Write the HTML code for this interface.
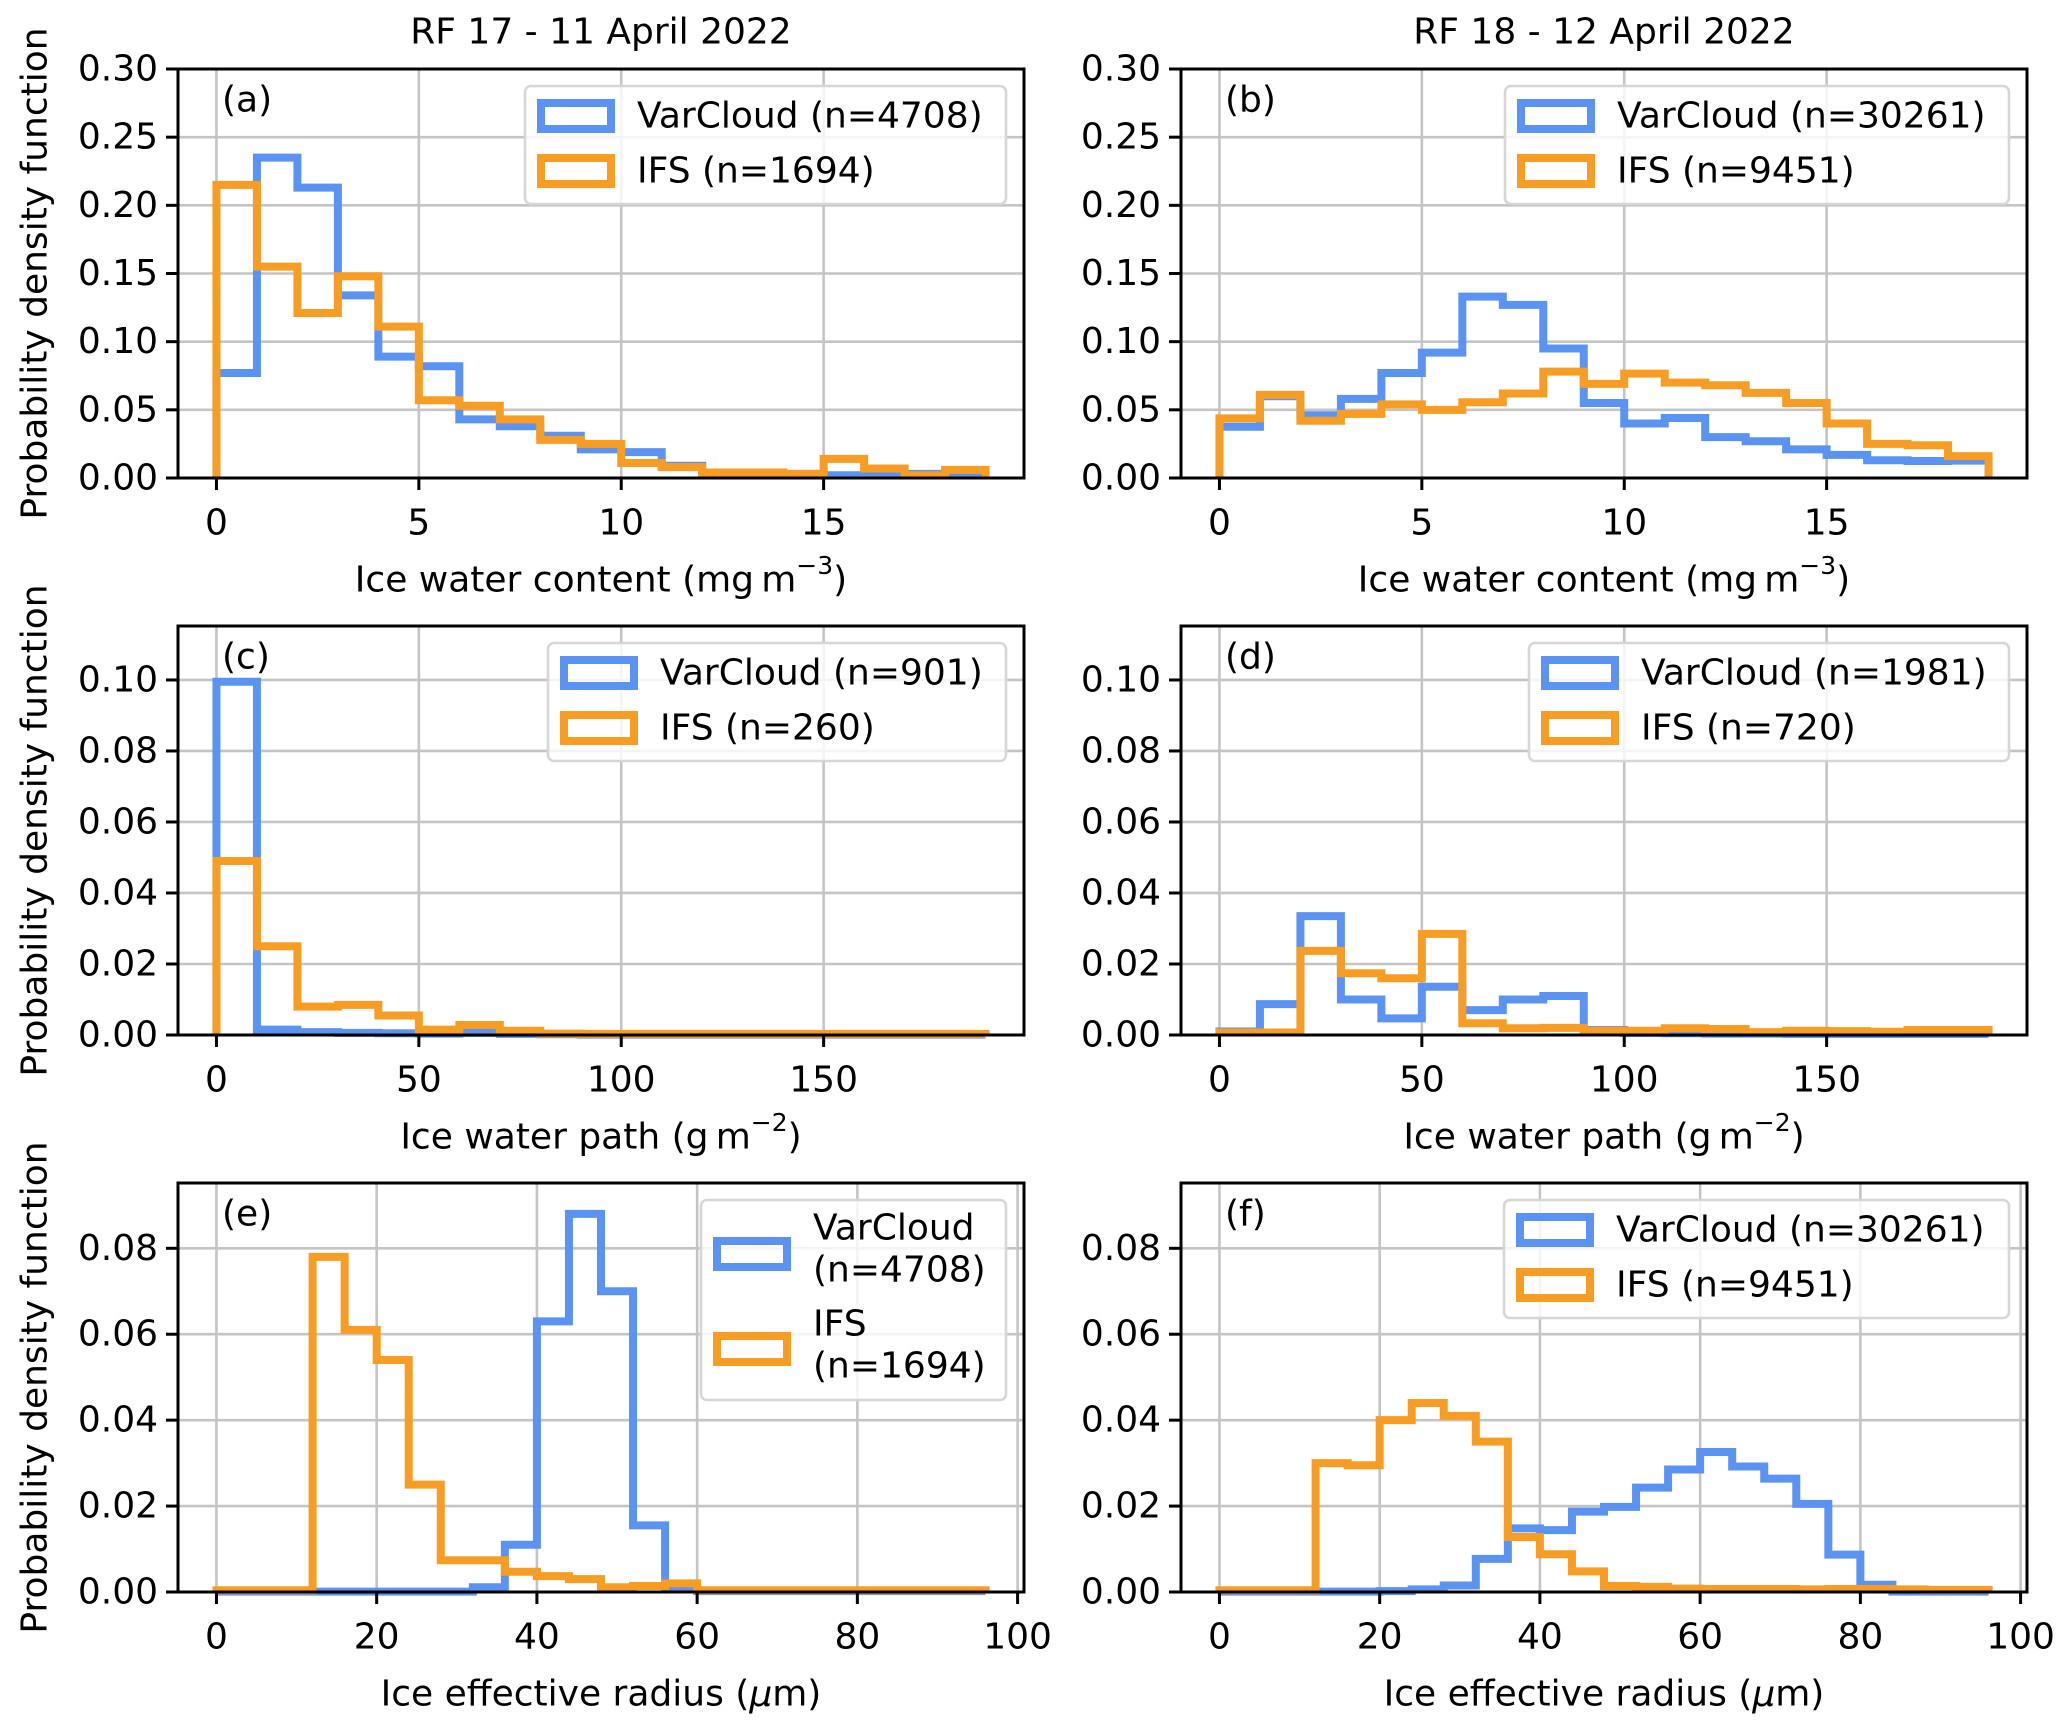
<!DOCTYPE html>
<html><head><meta charset="utf-8">
<style>
html,body{margin:0;padding:0;background:#fff;}
svg{display:block;font-family:"DejaVu Sans","Liberation Sans",sans-serif;}
</style></head>
<body>
<svg id="fig" width="2067" height="1726" viewBox="0 0 2067 1726" xmlns="http://www.w3.org/2000/svg"></svg>
<script>
// ---- data ----
const iwcVarA = [0.077,0.235,0.213,0.134,0.089,0.082,0.043,0.038,0.031,0.021,0.019,0.009,0.004,0.004,0.003,0.002,0.002,0.003,0.002];
const iwcIfsA = [0.215,0.155,0.121,0.148,0.111,0.057,0.053,0.043,0.028,0.025,0.011,0.008,0.004,0.004,0.003,0.014,0.007,0.002,0.006];
const iwcVarB = [0.0376,0.060,0.046,0.058,0.077,0.092,0.133,0.127,0.095,0.055,0.040,0.044,0.030,0.027,0.021,0.017,0.013,0.0125,0.0127];
const iwcIfsB = [0.0437,0.061,0.042,0.047,0.054,0.050,0.0556,0.062,0.078,0.069,0.0766,0.070,0.068,0.0624,0.055,0.040,0.025,0.024,0.016];
const iwpVarC = [0.0995,0.0015,0.0008,0.0006,0.0005,0.0004,0.0006,0.0003,0.0002,0.0001,0.0001,0.0001,0.0001,0.0001,0.0001,0.0001,0.0001,0.0001,0.0001];
const iwpIfsC = [0.049,0.025,0.008,0.0085,0.0055,0.0015,0.0028,0.0012,0.0004,0.0003,0.0003,0.0003,0.0003,0.0003,0.0003,0.0003,0.0003,0.0003,0.0003];
const iwpVarD = [0.001,0.0087,0.0335,0.010,0.0047,0.0136,0.007,0.010,0.011,0.0014,0.0006,0.0005,0.0004,0.0004,0.0003,0.0003,0.0003,0.0003,0.0003];
const iwpIfsD = [0.0007,0.0007,0.0237,0.0174,0.016,0.0285,0.0033,0.0019,0.002,0.0012,0.0012,0.0019,0.0017,0.0008,0.0012,0.0011,0.0009,0.0014,0.0014];
const reVarE = [0.0001,0.0001,0.0001,0.0001,0.0001,0.0001,0.0001,0.0001,0.0011,0.011,0.063,0.088,0.070,0.0155,0.0006,0.0002,0.0002,0.0002,0.0002,0.0002,0.0002,0.0002,0.0002,0.0002];
const reIfsE = [0.0004,0.0004,0.0004,0.078,0.061,0.054,0.025,0.0074,0.0074,0.0047,0.0037,0.003,0.0011,0.0014,0.002,0.0004,0.0004,0.0004,0.0004,0.0004,0.0004,0.0004,0.0004,0.0004];
const reVarF = [0.0001,0.0001,0.0001,0.0001,0.0001,0.0002,0.0006,0.0015,0.0077,0.0148,0.0144,0.0187,0.0198,0.0243,0.0285,0.0326,0.0292,0.0264,0.0205,0.0087,0.0017,0.0001,0.0001,0.0001];
const reIfsF = [0.0004,0.0004,0.0004,0.030,0.0295,0.040,0.044,0.041,0.035,0.0128,0.0088,0.0048,0.0014,0.0012,0.0008,0.0007,0.0007,0.0007,0.0006,0.0007,0.0007,0.0006,0.0005,0.0005];
const xTicksIwc = [0,5,10,15];
const xTicksIwp = [0,50,100,150];
const xTicksRe = [0,20,40,60,80,100];
const yTicksRow1 = [0,0.05,0.10,0.15,0.20,0.25,0.30];
const yTicksRow2 = [0,0.02,0.04,0.06,0.08,0.10];
const yTicksRow3 = [0,0.02,0.04,0.06,0.08];
const titles = ["RF 17 - 11 April 2022","RF 18 - 12 April 2022"];

const NS="http://www.w3.org/2000/svg";
const svg=document.getElementById('fig');
const BLUE="#5b93f2", ORANGE="#f89d23";
const FS=36;
function el(tag,attrs,parent){const e=document.createElementNS(NS,tag);for(const k in attrs)e.setAttribute(k,attrs[k]);(parent||svg).appendChild(e);return e;}

const rowTops=[69,626,1183], H=409, colLefts=[178,1181], W=846;

function panel(o){
  const L=colLefts[o.col], T=rowTops[o.row], R=L+W, B=T+H;
  const g=el('g',{});
  
  
  const sx=v=>L+(v-o.xmin)/(o.xmax-o.xmin)*W;
  const sy=v=>B-(v-0)/(o.ymax)*H;
  o.xt.forEach(t=>{const x=sx(t);if(x<=R+1){const l=el('line',{x1:x,x2:x,y1:T,y2:B,stroke:'#c4c4c4','stroke-width':2.6},g);}});
  o.yt.forEach(t=>{const y=sy(t);const l=el('line',{x1:L,x2:R,y1:y,y2:y,stroke:'#c4c4c4','stroke-width':2.6},g);});
  [[o.blue,BLUE,'varcloud-histogram'],[o.orange,ORANGE,'ifs-histogram']].forEach(([vals,c,nm])=>{
    let pts=[[sx(o.x0),sy(0)]];
    vals.forEach((v,i)=>{const a=o.x0+i*o.bw,b=a+o.bw;pts.push([sx(a),sy(v)]);pts.push([sx(b),sy(v)]);});
    pts.push([sx(o.x0+vals.length*o.bw),sy(0)]);
    const p=el('polyline',{points:pts.map(p=>p.join(',')).join(' '),fill:'none',stroke:c,'stroke-width':8,'stroke-linejoin':'miter'},g);
    
    
  });
  const sp=el('rect',{x:L,y:T,width:W,height:H,fill:'none',stroke:'#000','stroke-width':3},g);
  
  
  o.xt.forEach(t=>{const x=sx(t);
    el('line',{x1:x,x2:x,y1:B,y2:B+12,stroke:'#000','stroke-width':3},g);
    const tx=el('text',{x:x,y:B+45,'font-size':FS,'text-anchor':'middle','dominant-baseline':'central'},g);
    
    
    tx.textContent=String(t);});
  o.yt.forEach(t=>{const y=sy(t);
    el('line',{x1:L-12,x2:L,y1:y,y2:y,stroke:'#000','stroke-width':3},g);
    const tx=el('text',{x:L-20,y:y,'font-size':FS,'text-anchor':'end','dominant-baseline':'central'},g);
    
    
    tx.textContent=t.toFixed(2);});
  const lt=el('text',{x:L+44,y:T+31,'font-size':FS,'dominant-baseline':'central'},g);
  
  
  lt.textContent='('+o.letter+')';
  const xl=el('text',{x:L+W/2,y:B+102,'font-size':FS,'text-anchor':'middle','dominant-baseline':'central'},g);
  
  
  xl.innerHTML=o.xlabel;
  if(o.col===0){
    const yl=el('text',{x:35,y:T+H/2,'font-size':FS,'text-anchor':'middle','dominant-baseline':'central',transform:'rotate(-90 35 '+(T+H/2)+')'},g);
    
    
    yl.textContent='Probability density function';
  }
  const lg=el('g',{},g);
  
  
  const bx=R-18-o.lw, by=T+17;
  el('rect',{x:bx,y:by,width:o.lw,height:o.lh,rx:6,fill:'rgba(255,255,255,0.82)',stroke:'#d6d6d6','stroke-width':2.6},lg);
  o.leg.forEach(e=>{
    const h=el('rect',{x:bx+16,y:by+e.hy-13,width:70,height:26,fill:'none',stroke:e.c,'stroke-width':8},lg);
    
    
    e.lines.forEach(([txt,ty])=>{
      const t=el('text',{x:bx+o.tx,y:by+ty,'font-size':FS,'dominant-baseline':'central'},lg);
      
      
      t.textContent=txt;});
  });
}
const two=(a,b)=>[{c:BLUE,hy:30,lines:[[a,30]]},{c:ORANGE,hy:85,lines:[[b,85]]}];
const iwcLabel='Ice water content (mg\u2009m<tspan baseline-shift="super" font-size="25">\u22123</tspan>)';
const iwpLabel='Ice water path (g\u2009m<tspan baseline-shift="super" font-size="25">\u22122</tspan>)';
const reLabel='Ice effective radius (<tspan font-style="italic">\u03bc</tspan>m)';

panel({letter:'a',row:0,col:0,blue:iwcVarA,orange:iwcIfsA,x0:0,bw:1,xmin:-0.95,xmax:19.95,ymax:0.30,xt:xTicksIwc,yt:yTicksRow1,xlabel:iwcLabel,lw:481,lh:118,tx:112,leg:two('VarCloud (n=4708)','IFS (n=1694)')});
panel({letter:'b',row:0,col:1,blue:iwcVarB,orange:iwcIfsB,x0:0,bw:1,xmin:-0.95,xmax:19.95,ymax:0.30,xt:xTicksIwc,yt:yTicksRow1,xlabel:iwcLabel,lw:504,lh:118,tx:112,leg:two('VarCloud (n=30261)','IFS (n=9451)')});
panel({letter:'c',row:1,col:0,blue:iwpVarC,orange:iwpIfsC,x0:0,bw:10,xmin:-9.5,xmax:199.5,ymax:0.1152,xt:xTicksIwp,yt:yTicksRow2,xlabel:iwpLabel,lw:458,lh:118,tx:112,leg:two('VarCloud (n=901)','IFS (n=260)')});
panel({letter:'d',row:1,col:1,blue:iwpVarD,orange:iwpIfsD,x0:0,bw:10,xmin:-9.5,xmax:199.5,ymax:0.1152,xt:xTicksIwp,yt:yTicksRow2,xlabel:iwpLabel,lw:480,lh:118,tx:112,leg:two('VarCloud (n=1981)','IFS (n=720)')});
panel({letter:'e',row:2,col:0,blue:reVarE,orange:reIfsE,x0:0,bw:4,xmin:-4.8,xmax:100.8,ymax:0.0952,xt:xTicksRe,yt:yTicksRow3,xlabel:reLabel,lw:305,lh:200,tx:112,
  leg:[{c:BLUE,hy:54,lines:[['VarCloud',28],['(n=4708)',70]]},{c:ORANGE,hy:149,lines:[['IFS',124],['(n=1694)',166]]}]});
panel({letter:'f',row:2,col:1,blue:reVarF,orange:reIfsF,x0:0,bw:4,xmin:-4.8,xmax:100.8,ymax:0.0952,xt:xTicksRe,yt:yTicksRow3,xlabel:reLabel,lw:505,lh:118,tx:112,leg:two('VarCloud (n=30261)','IFS (n=9451)')});

titles.forEach((t,i)=>{
  const tx=el('text',{x:colLefts[i]+W/2,y:32,'font-size':FS,'text-anchor':'middle','dominant-baseline':'central'});
  
  
  tx.textContent=t;
});
</script>
</body></html>
